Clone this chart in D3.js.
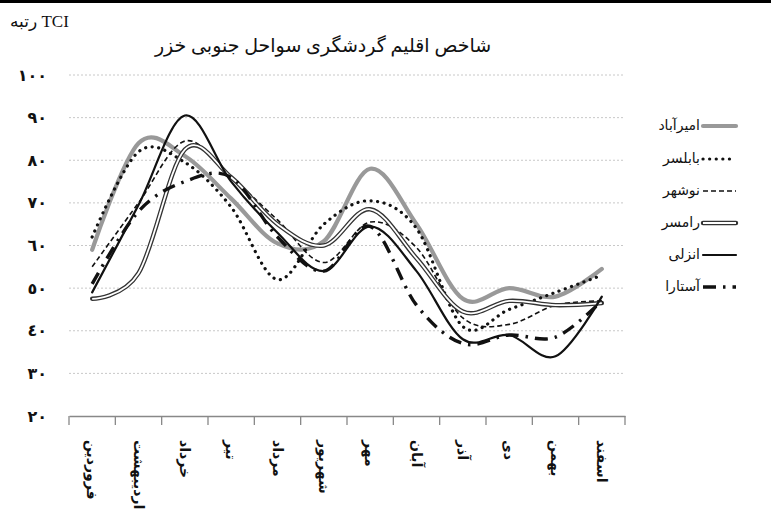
<!DOCTYPE html>
<html>
<head>
<meta charset="utf-8">
<script src="https://cdn.jsdelivr.net/npm/d3@7"></script>
<style>
  html, body { margin: 0; padding: 0; background: #fff; }
  svg { display: block; }
</style>
</head>
<body>
<div id="chart"></div>
<script>
/* ── TCI chart, southern Caspian coast ─────────────────────────── */
(function () {
  "use strict";

  /* ── Data ─────────────────────────────────────────────────────── */
  const months = ["فروردین", "اردیبهشت", "خرداد", "تیر", "مرداد", "شهریور",
                  "مهر", "آبان", "آذر", "دی", "بهمن", "اسفند"];
  const yTicks = [20, 30, 40, 50, 60, 70, 80, 90, 100];
  const yTickLabels = ["٢٠", "٣٠", "٤٠", "٥٠", "٦٠", "٧٠", "٨٠", "٩٠", "١٠٠"];

  const stations = ["امیرآباد", "بابلسر", "نوشهر", "رامسر", "انزلی", "آستارا"];
  const amirabad = [59, 84, 81, 71, 60.5, 61, 78, 65, 47.5, 50, 48, 54.5];
  const babolsar = [62, 82, 79.5, 69, 52, 65, 70.5, 64, 41, 45, 49, 53];
  const nowshahr = [55, 70, 84.5, 76, 66, 56, 65.5, 59.5, 43, 41.5, 46, 47];
  const ramsar   = [47.5, 53.5, 82.5, 76, 65, 60, 68.5, 57, 44.5, 47, 46, 46.5];
  const anzali   = [49, 69.5, 90.5, 75, 63, 54, 64.5, 54, 38, 39, 34, 48];
  const astara   = [51, 68, 75, 76, 62, 54, 64.5, 46, 37, 39, 38.5, 47];
  const seriesValues = [amirabad, babolsar, nowshahr, ramsar, anzali, astara];

  /* ── Styles per series ────────────────────────────────────────── */
  const styles = [
    { stroke: "#999", width: 4.2, dash: null, cap: "round" },
    { stroke: "#111", width: 3.2, dash: "0.1 6.5", cap: "round" },
    { stroke: "#111", width: 1.6, dash: "5 3", cap: "butt" },
    { stroke: "#333", width: 4.4, dash: null, cap: "round", inner: 1.8 },
    { stroke: "#111", width: 2.2, dash: null, cap: "round" },
    { stroke: "#111", width: 3.4, dash: "13 7 2.5 7", cap: "butt" }
  ];

  /* ── Layout ───────────────────────────────────────────────────── */
  const W = 771, H = 512;
  const left = 69, right = 625, top = 75, bottom = 416;
  const serif = "'Times New Roman', 'Liberation Serif', 'DejaVu Sans', serif";
  const sans = "Arial, 'Liberation Sans', 'DejaVu Sans', sans-serif";

  const svg = d3.select("#chart").append("svg")
    .attr("width", W).attr("height", H);

  // black rule along the top edge
  svg.append("rect").attr("x", 0).attr("y", 0).attr("width", W).attr("height", 3).attr("fill", "#000");

  const x = d3.scaleBand().domain(months).range([left, right]);
  const y = d3.scaleLinear().domain([20, 100]).range([bottom, top]);

  /* ── Grid + y labels ──────────────────────────────────────────── */
  svg.append("g").selectAll("line").data(yTicks.filter(t => t > 20)).join("line")
    .attr("x1", left).attr("x2", right)
    .attr("y1", d => y(d)).attr("y2", d => y(d))
    .attr("stroke", "#c8c8c8").attr("stroke-width", 1)
    .attr("stroke-dasharray", "2 2");

  svg.append("g").selectAll("text").data(yTicks).join("text")
    .attr("x", 47).attr("y", d => y(d))
    .attr("dy", "0.35em")
    .attr("text-anchor", "end")
    .attr("font-family", serif).attr("font-size", 16).attr("font-weight", "bold")
    .attr("fill", "#111")
    .text((d, i) => yTickLabels[i]);

  /* ── X axis ───────────────────────────────────────────────────── */
  const xAxis = d3.axisBottom(x).tickSize(0).tickFormat("");
  const gx = svg.append("g").attr("transform", `translate(0,${bottom})`).call(xAxis);
  gx.select(".domain").attr("stroke", "#888").attr("stroke-width", 1.3);

  const edges = months.map(m => x(m)).concat([right]);
  svg.append("g").selectAll("line").data(edges).join("line")
    .attr("x1", d => d).attr("x2", d => d)
    .attr("y1", bottom).attr("y2", bottom + 9)
    .attr("stroke", "#888").attr("stroke-width", 1.3);

  svg.append("g").selectAll("text").data(months).join("text")
    .attr("transform", d => `translate(${x(d) + x.bandwidth() / 2},440) rotate(90)`)
    .attr("dy", "0.35em")
    .attr("text-anchor", "start")
    .attr("font-family", serif).attr("font-size", 14).attr("font-weight", "bold")
    .attr("fill", "#111")
    .text(d => d);

  /* ── Lines ────────────────────────────────────────────────────── */
  const line = d3.line()
    .x((d, i) => x(months[i]) + x.bandwidth() / 2)
    .y(d => y(d))
    .curve(d3.curveCatmullRom.alpha(0));

  const gLines = svg.append("g").attr("fill", "none");
  seriesValues.forEach((vals, k) => {
    const s = styles[k];
    const p = gLines.append("path").attr("d", line(vals))
      .attr("stroke", s.stroke).attr("stroke-width", s.width)
      .attr("stroke-linecap", s.cap).attr("stroke-linejoin", "round");
    if (s.dash) p.attr("stroke-dasharray", s.dash);
    if (s.inner) {
      gLines.append("path").attr("d", line(vals))
        .attr("stroke", "#fff").attr("stroke-width", s.inner);
    }
  });

  /* ── Legend ───────────────────────────────────────────────────── */
  const legendY = [125, 158, 190, 222, 254, 286];
  const lg = svg.append("g");
  stations.forEach((name, k) => {
    const s = styles[k];
    const yy = legendY[k];
    lg.append("text")
      .attr("x", 700).attr("y", yy).attr("dy", "0.35em")
      .attr("text-anchor", "end")
      .attr("font-family", sans).attr("font-size", 14)
      .attr("fill", "#111")
      .text(name);
    const l = lg.append("line")
      .attr("x1", 703).attr("x2", 736).attr("y1", yy + 1).attr("y2", yy + 1)
      .attr("stroke", s.stroke).attr("stroke-width", s.width)
      .attr("stroke-linecap", s.cap);
    if (s.dash) l.attr("stroke-dasharray", s.dash);
    if (s.inner) {
      lg.append("line")
        .attr("x1", 703).attr("x2", 736).attr("y1", yy + 1).attr("y2", yy + 1)
        .attr("stroke", "#fff").attr("stroke-width", s.inner);
    }
  });

  /* ── Titles ───────────────────────────────────────────────────── */
  svg.append("text")
    .attr("x", 323).attr("y", 52)
    .attr("text-anchor", "middle")
    .attr("font-family", serif).attr("font-size", 19)
    .attr("fill", "#111")
    .text("شاخص اقلیم گردشگری سواحل جنوبی خزر");

  svg.append("text")
    .attr("x", 10).attr("y", 27)
    .attr("text-anchor", "start")
    .attr("font-family", serif).attr("font-size", 17)
    .attr("fill", "#111")
    .text("رتبه TCI");
})();
</script>
</body>
</html>
